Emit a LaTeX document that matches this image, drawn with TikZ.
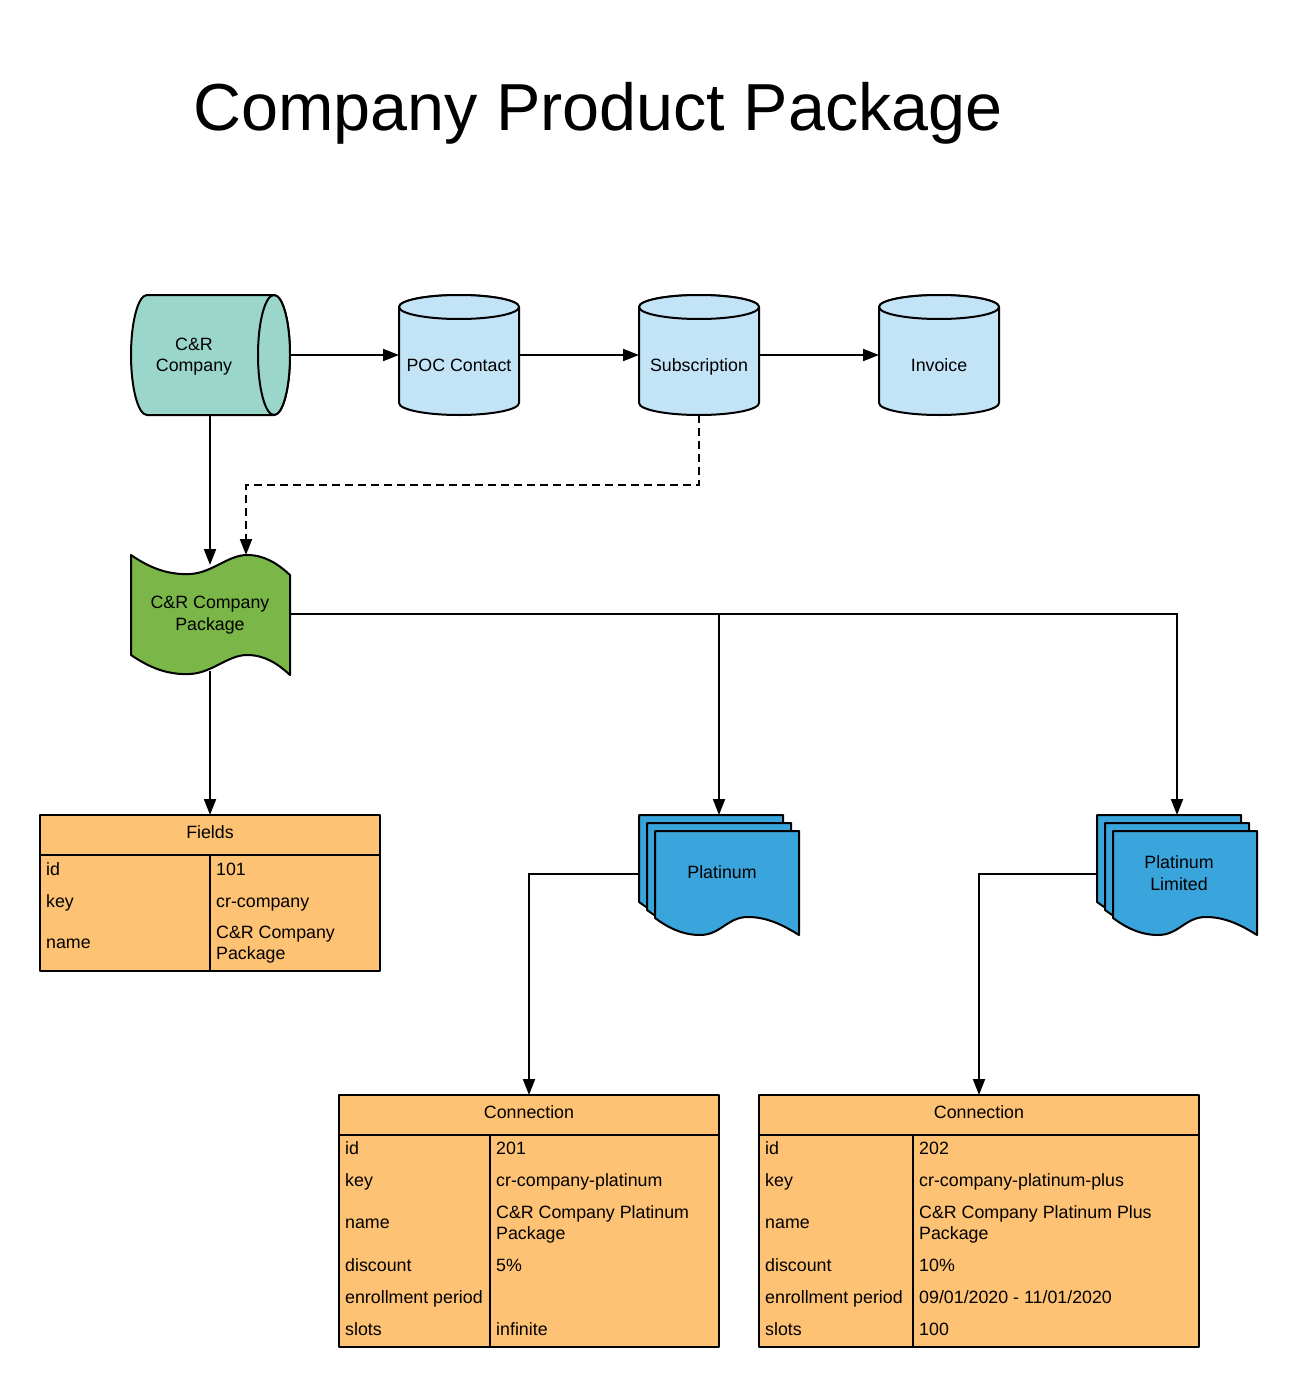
\documentclass[tikz,border=0pt]{standalone}
\usepackage{fontspec}
\setmainfont{Liberation Sans}
\usetikzlibrary{arrows.meta}
\definecolor{cTeal}{HTML}{9AD6CA}
\definecolor{cLblue}{HTML}{C2E4F6}
\definecolor{cGreen}{HTML}{7AB648}
\definecolor{cBlue}{HTML}{3AA5DC}
\definecolor{cOrange}{HTML}{FDC274}
\begin{document}
\begin{tikzpicture}[x=1pt,y=-1pt,
  shp/.style={draw=black, line width=2pt, line join=round},
  conn/.style={draw=black, line width=2pt, -{Triangle[length=16pt,width=12pt]}},
  dconn/.style={conn, dash pattern=on 8pt off 5pt},
  txt/.style={inner sep=0pt, font=\fontsize{17.8}{21}\selectfont, anchor=base},
  ltxt/.style={txt, anchor=base west}]
\useasboundingbox (0,0) rectangle (1297,1388);

% title
\node[inner sep=0pt, anchor=base, font=\fontsize{66.5}{72}\selectfont] (title) at (598,131) {Company Product Package};

% C&R Company horizontal cylinder
\path[shp, fill=cTeal] (147,295) -- (274,295) arc[start angle=-90, end angle=90, x radius=16, y radius=60]
  -- (147,415) arc[start angle=90, end angle=270, x radius=16, y radius=60] -- cycle;
\path[shp, fill=cTeal] (274,355) ellipse[x radius=16, y radius=60];
\node[txt] (crc1) at (194,350) {C\&R};
\node[txt] (crc2) at (194,371) {Company};
\coordinate (crc-r) at (290,355);
\coordinate (crc-b) at (210,415);

% vertical cylinders
\foreach \cx/\nm/\lab in {459/poc/POC Contact, 699/sub/Subscription, 939/inv/Invoice}{
  \path[shp, fill=cLblue] (\cx-60,307) -- (\cx-60,403) arc[start angle=180, end angle=0, x radius=60, y radius=12]
    -- (\cx+60,307) arc[start angle=0, end angle=-180, x radius=60, y radius=12] -- cycle;
  \path[shp, fill=cLblue] (\cx,307) ellipse[x radius=60, y radius=12];
  \node[txt] (\nm-t) at (\cx,371) {\lab};
  \coordinate (\nm-l) at (\cx-60,355);
  \coordinate (\nm-r) at (\cx+60,355);
  \coordinate (\nm-b) at (\cx,415);
}

% package (tape)
\path[shp, fill=cGreen] (131,555) .. controls (150,568) and (168,575) .. (190,574)
  .. controls (212,573) and (228,555) .. (247,555)
  .. controls (264,555) and (277,563) .. (290,575) -- (290,675)
  .. controls (277,663) and (264,655) .. (247,655)
  .. controls (228,655) and (212,673) .. (190,674)
  .. controls (168,675) and (150,668) .. (131,655) -- cycle;
\node[txt] (pk1) at (210,608) {C\&R Company};
\node[txt] (pk2) at (210,630) {Package};
\coordinate (pk-t1) at (210,565);
\coordinate (pk-t2) at (246,555);
\coordinate (pk-r) at (290,614);
\coordinate (pk-b) at (210,671);

% document stacks
\foreach \X/\Y in {639/815, 647/823, 655/831, 1097/815, 1105/823, 1113/831}{
  \path[shp, fill=cBlue] (\X,\Y) -- (\X+144,\Y) -- (\X+144,\Y+104)
    .. controls (\X+128,\Y+94) and (\X+112,\Y+86) .. (\X+93,\Y+86)
    .. controls (\X+72,\Y+86) and (\X+66,\Y+104) .. (\X+45,\Y+104)
    .. controls (\X+27,\Y+104) and (\X+12,\Y+96) .. (\X,\Y+87) -- cycle;
}
\node[txt] (pl) at (722,878) {Platinum};
\node[txt] (plim1) at (1179,868) {Platinum};
\node[txt] (plim2) at (1179,890) {Limited};
\coordinate (pl-t) at (719,815);
\coordinate (pl-l) at (639,874);
\coordinate (plim-t) at (1177,815);
\coordinate (plim-l) at (1097,874);

% Fields table
\path[shp, fill=cOrange] (40,815) rectangle (380,971);
\draw[shp] (40,855) -- (380,855);
\draw[shp] (210,855) -- (210,971);
\node[txt] (fh) at (210,838) {Fields};
\node[ltxt] (f1) at (46,875) {id};
\node[ltxt] (f1v) at (216,875) {101};
\node[ltxt] (f2) at (46,907) {key};
\node[ltxt] (f2v) at (216,907) {cr-company};
\node[ltxt] (f3) at (46,948) {name};
\node[ltxt] (f3v) at (216,938) {C\&R Company};
\node[ltxt] (f3w) at (216,959) {Package};
\coordinate (f-t) at (210,815);

% Connection table 1
\path[shp, fill=cOrange] (339,1095) rectangle (719,1347);
\draw[shp] (339,1135) -- (719,1135);
\draw[shp] (490,1135) -- (490,1347);
\node[txt] (ah) at (529,1118) {Connection};
\node[ltxt] (a1) at (345,1154) {id};
\node[ltxt] (a1v) at (496,1154) {201};
\node[ltxt] (a2) at (345,1186) {key};
\node[ltxt] (a2v) at (496,1186) {cr-company-platinum};
\node[ltxt] (a3) at (345,1228) {name};
\node[ltxt] (a3v) at (496,1218) {C\&R Company Platinum};
\node[ltxt] (a3w) at (496,1239) {Package};
\node[ltxt] (a4) at (345,1271) {discount};
\node[ltxt] (a4v) at (496,1271) {5\%};
\node[ltxt] (a5) at (345,1303) {enrollment period};
\node[ltxt] (a6) at (345,1335) {slots};
\node[ltxt] (a6v) at (496,1335) {infinite};
\coordinate (a-t) at (529,1095);

% Connection table 2
\path[shp, fill=cOrange] (759,1095) rectangle (1199,1347);
\draw[shp] (759,1135) -- (1199,1135);
\draw[shp] (913,1135) -- (913,1347);
\node[txt] (bh) at (979,1118) {Connection};
\node[ltxt] (b1) at (765,1154) {id};
\node[ltxt] (b1v) at (919,1154) {202};
\node[ltxt] (b2) at (765,1186) {key};
\node[ltxt] (b2v) at (919,1186) {cr-company-platinum-plus};
\node[ltxt] (b3) at (765,1228) {name};
\node[ltxt] (b3v) at (919,1218) {C\&R Company Platinum Plus};
\node[ltxt] (b3w) at (919,1239) {Package};
\node[ltxt] (b4) at (765,1271) {discount};
\node[ltxt] (b4v) at (919,1271) {10\%};
\node[ltxt] (b5) at (765,1303) {enrollment period};
\node[ltxt] (b5v) at (919,1303) {09/01/2020 - 11/01/2020};
\node[ltxt] (b6) at (765,1335) {slots};
\node[ltxt] (b6v) at (919,1335) {100};
\coordinate (b-t) at (979,1095);

% connectors
\draw[conn] (crc-r) -- (poc-l);
\draw[conn] (poc-r) -- (sub-l);
\draw[conn] (sub-r) -- (inv-l);
\draw[conn] (crc-b) -- (pk-t1);
\draw[dconn] (sub-b) |- (699,485) -| (pk-t2);
\draw[conn] (pk-b) -- (f-t);
\draw[conn] (pk-r) -| (pl-t);
\draw[conn] (pk-r) -| (plim-t);
\draw[conn] (pl-l) -| (a-t);
\draw[conn] (plim-l) -| (b-t);
\end{tikzpicture}
\end{document}
